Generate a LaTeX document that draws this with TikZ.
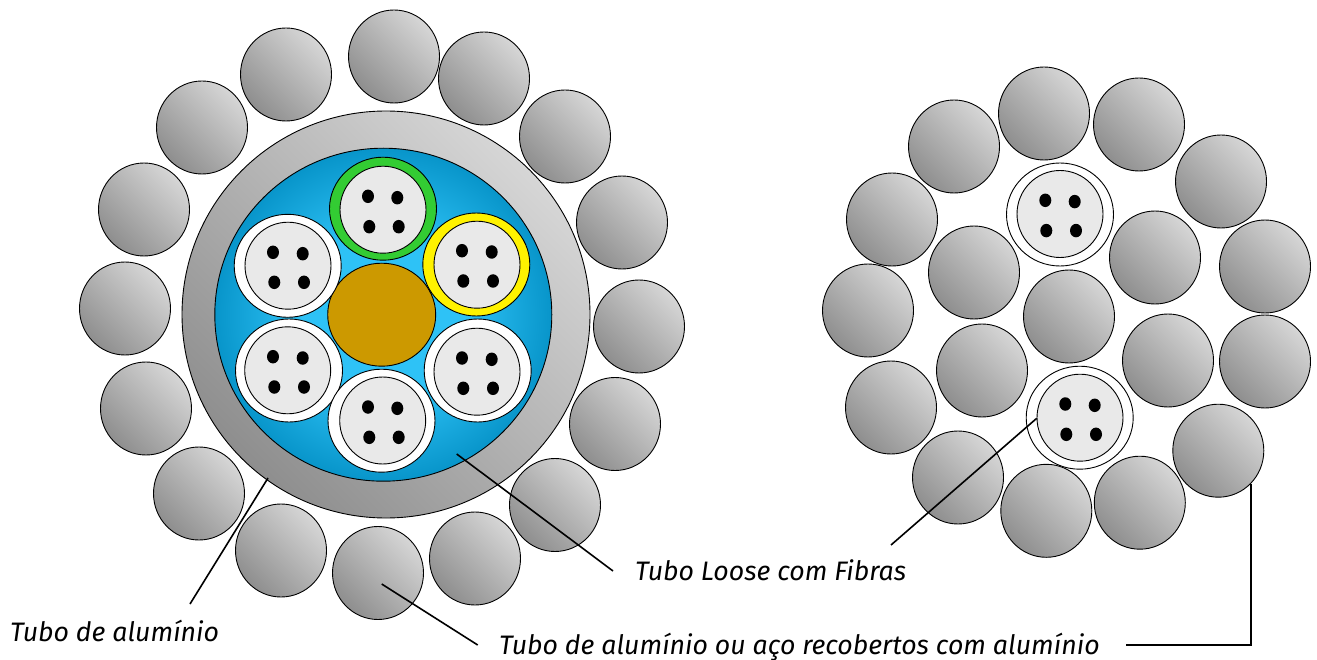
\documentclass[tikz,border=0pt]{standalone}
\usepackage{fontspec}
\setmainfont{Fira Sans}
\usetikzlibrary{shapes.geometric}
\definecolor{strandlo}{HTML}{8E8E8E}
\definecolor{strandhi}{HTML}{D6D6D6}
\definecolor{gelin}{HTML}{2EC2F6}
\definecolor{gelout}{HTML}{0895CA}
\definecolor{corebrown}{HTML}{CC9900}
\definecolor{fibrebg}{HTML}{E9E9E9}
\definecolor{loosegreen}{HTML}{33CC33}
\pgfdeclareradialshading{gelshade}{\pgfpointorigin}{color(0bp)=(gelin); color(12bp)=(gelin); color(25bp)=(gelout); color(50bp)=(gelout)}
\tikzset{
  strand/.style={ellipse, draw, line width=.9pt, inner sep=0pt, minimum width=91pt, minimum height=93pt, left color=strandlo, right color=strandhi, shading angle=135},
  loose/.style={ellipse, draw, line width=.9pt, inner sep=0pt, minimum width=107pt, minimum height=103pt, fill=white},
  fibreb/.style={ellipse, draw, line width=.9pt, inner sep=0pt, minimum width=86pt, minimum height=87pt, fill=fibrebg},
  fibre/.style={ellipse, fill=black, inner sep=0pt, minimum width=12pt, minimum height=13.5pt},
  lead/.style={line width=1.6pt},
  legend/.style={anchor=base west, inner sep=0pt, font=\fontsize{26.7}{30}\selectfont\itshape}
}
\begin{document}
\begin{tikzpicture}[x=1pt,y=-1pt]
\useasboundingbox (0,0) rectangle (1317,660);
% left cable
\node[ellipse, draw, line width=.9pt, inner sep=0pt, minimum width=408pt, minimum height=407pt, left color=strandlo, right color=strandhi, shading angle=135] (alu) at (386,314.5){};
\node[ellipse, draw, line width=.9pt, inner sep=0pt, minimum width=337pt, minimum height=333pt, shading=gelshade] (gel) at (383.3,314.7){};
\node[ellipse, draw, line width=.9pt, inner sep=0pt, minimum width=108pt, minimum height=103pt, fill=corebrown] (core) at (381.7,314.7){};
\node[loose, fill=loosegreen] (lt0) at (383,208.7){};
\node[loose, fill=yellow] (lt1) at (476.3,264.5){};
\node[loose] (lt2) at (287.7,265.8){};
\node[loose] (lt3) at (289,370.5){};
\node[loose] (lt4) at (477.7,370.5){};
\node[loose] (lt5) at (381.5,420.7){};
\node[fibreb] (lb0) at (383,209.7){};
\node[fibreb] (lb1) at (477,264.7){};
\node[fibreb] (lb2) at (288,265.7){};
\node[fibreb] (lb3) at (287.7,370.3){};
\node[fibreb] (lb4) at (477,371.7){};
\node[fibreb] (lb5) at (382.7,420.5){};
\node[fibre] (lf00) at (368,196.3){};
\node[fibre] (lf01) at (397.3,197.7){};
\node[fibre] (lf02) at (369.3,226.7){};
\node[fibre] (lf03) at (398.7,226.7){};
\node[fibre] (lf10) at (462,250.7){};
\node[fibre] (lf11) at (491.7,252){};
\node[fibre] (lf12) at (463.3,281){};
\node[fibre] (lf13) at (493,281){};
\node[fibre] (lf20) at (273,252.3){};
\node[fibre] (lf21) at (302.7,253.7){};
\node[fibre] (lf22) at (274.3,282.3){};
\node[fibre] (lf23) at (304,282.3){};
\node[fibre] (lf30) at (273,356.7){};
\node[fibre] (lf31) at (302.7,358){};
\node[fibre] (lf32) at (274.3,387){};
\node[fibre] (lf33) at (304,387){};
\node[fibre] (lf40) at (462,358){};
\node[fibre] (lf41) at (491.7,359.3){};
\node[fibre] (lf42) at (463.3,388.3){};
\node[fibre] (lf43) at (493,388.3){};
\node[fibre] (lf50) at (368,407){};
\node[fibre] (lf51) at (397.3,408.3){};
\node[fibre] (lf52) at (369.3,437.3){};
\node[fibre] (lf53) at (398.7,437.3){};
\node[strand] (ls0) at (394,56.5){};
\node[strand] (ls1) at (286,74.5){};
\node[strand] (ls2) at (484,78.5){};
\node[strand] (ls3) at (565,136.5){};
\node[strand] (ls4) at (202,127.5){};
\node[strand] (ls5) at (622,222.5){};
\node[strand] (ls6) at (144,209.5){};
\node[strand] (ls7) at (639,326.5){};
\node[strand] (ls8) at (125,308.5){};
\node[strand] (ls9) at (615,424){};
\node[strand] (ls10) at (146,408.5){};
\node[strand] (ls11) at (555,505){};
\node[strand] (ls12) at (199,493.5){};
\node[strand] (ls13) at (281,550.5){};
\node[strand] (ls14) at (475,558.5){};
\node[strand] (ls15) at (378,573){};
% right cable
\node[loose] (rt0) at (1060,214.5){};
\node[loose] (rt1) at (1079.7,417.7){};
\node[fibreb] (rb0) at (1060,214){};
\node[fibreb] (rb1) at (1080,417.7){};
\node[fibre] (rf00) at (1045.3,200.3){};
\node[fibre] (rf01) at (1074.7,201.6){};
\node[fibre] (rf02) at (1046.3,230.6){};
\node[fibre] (rf03) at (1076,230.6){};
\node[fibre] (rf10) at (1065.3,404){};
\node[fibre] (rf11) at (1094.7,405.3){};
\node[fibre] (rf12) at (1066.3,434.3){};
\node[fibre] (rf13) at (1096,434.3){};
\node[strand] (rs0) at (1044,113.5){};
\node[strand] (rs1) at (1139,124.5){};
\node[strand] (rs2) at (954,146.5){};
\node[strand] (rs3) at (1221,181.5){};
\node[strand] (rs4) at (892,219.5){};
\node[strand] (rs5) at (1265,266.5){};
\node[strand] (rs6) at (974,272.5){};
\node[strand] (rs7) at (1155,257.5){};
\node[strand] (rs8) at (868,310.5){};
\node[strand] (rs9) at (1265,361.5){};
\node[strand] (rs10) at (1069,316.5){};
\node[strand] (rs11) at (982,370.5){};
\node[strand] (rs12) at (1168,360.5){};
\node[strand] (rs13) at (891,407.5){};
\node[strand] (rs14) at (1218.3,450.7){};
\node[strand] (rs15) at (958,477.5){};
\node[strand] (rs16) at (1046.3,510.8){};
\node[strand] (rs17) at (1139.8,502.7){};
% labels
\node[legend] (talu) at (10,641){Tubo de alumínio};
\node[legend] (tloose) at (635,580){Tubo Loose com Fibras};
\node[legend] (tstrand) at (499,654.5){Tubo de alumínio ou aço recobertos com alumínio};
% leaders
\coordinate (a0) at (268,478);
\coordinate (a1) at (190,604);
\coordinate (b0) at (456.7,454);
\coordinate (b1) at (613,571);
\coordinate (c0) at (381.7,584);
\coordinate (c1) at (477.7,645);
\coordinate (d0) at (1036.7,418.3);
\coordinate (d1) at (891,545);
\coordinate (e0) at (1250.7,484);
\coordinate (e1) at (1250.7,644.7);
\coordinate (e2) at (1126,644.7);
\draw[lead](a0) -- (a1);
\draw[lead](b0) -- (b1);
\draw[lead](c0) -- (c1);
\draw[lead](d0) -- (d1);
\draw[lead](e0) -- (e1) -- (e2);
\end{tikzpicture}
\end{document}
